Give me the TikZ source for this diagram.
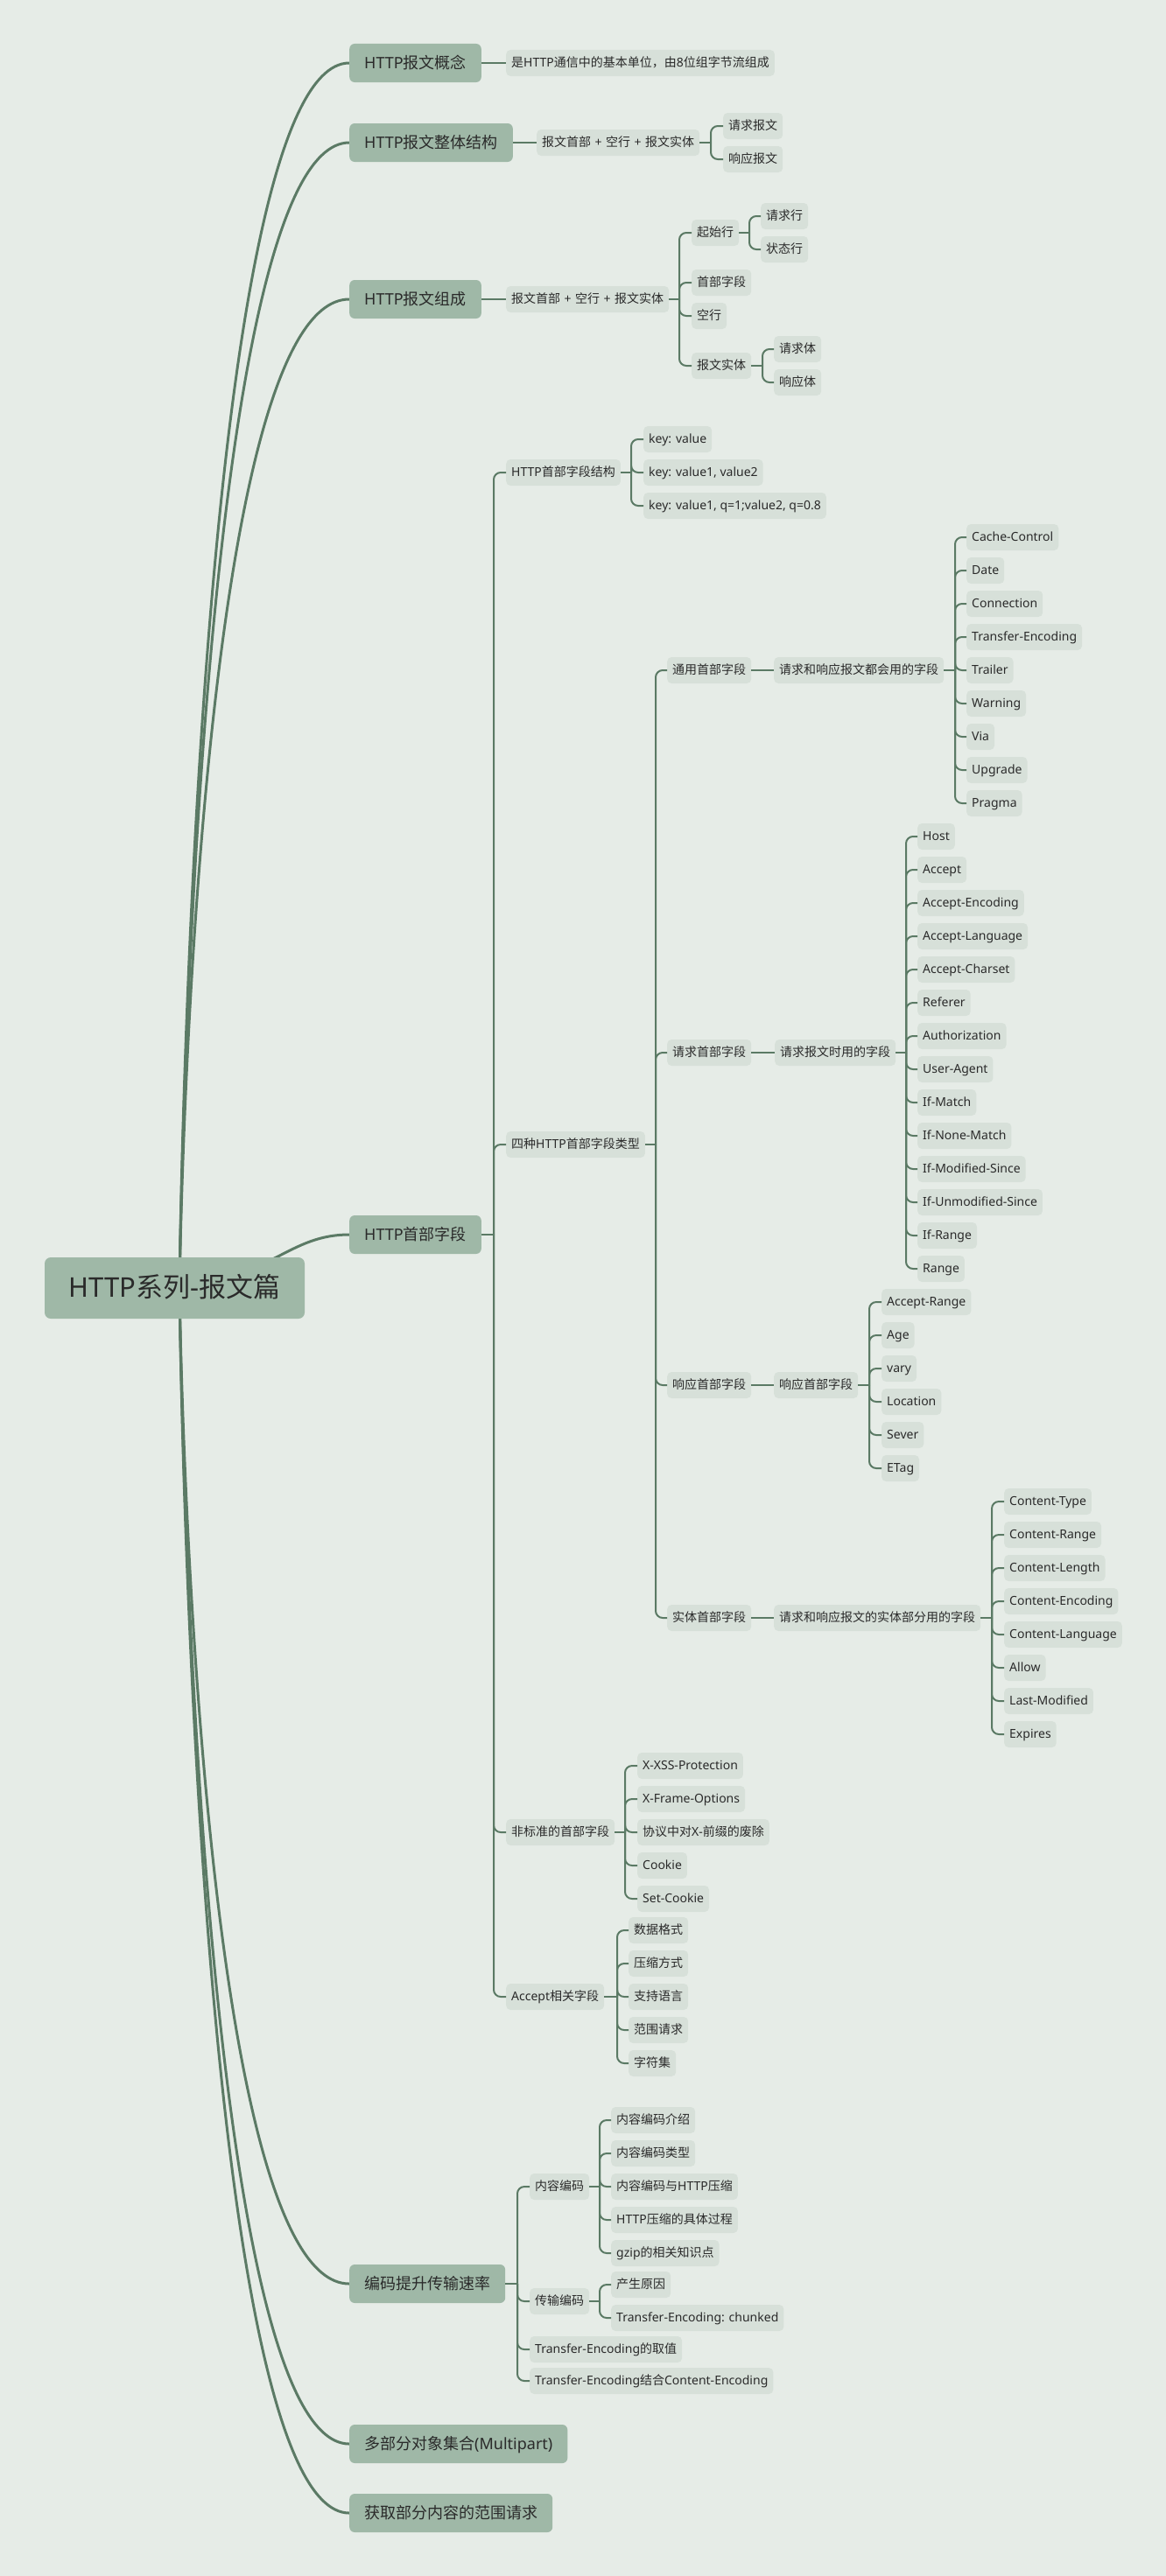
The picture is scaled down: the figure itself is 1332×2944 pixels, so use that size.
\documentclass[tikz,border=0pt]{standalone}
\usepackage{fontspec}
\setmainfont{Noto Sans}
\newfontfamily\cjkfont{Noto Sans CJK SC}
\usetikzlibrary{calc}
\XeTeXinterchartokenstate=1
\newXeTeXintercharclass\cjkclass
\newcount\cjkidx
\newcommand\setcjkrange[2]{%
  \cjkidx=#1\relax
  \loop
    \XeTeXcharclass\cjkidx=\cjkclass
    \ifnum\cjkidx<#2\relax \advance\cjkidx by 1
  \repeat}
\setcjkrange{"4E00}{"9FFF}
\setcjkrange{"3000}{"303F}
\setcjkrange{"FF00}{"FFEF}
\XeTeXinterchartoks 0 \cjkclass = {\cjkfont}
\XeTeXinterchartoks 4095 \cjkclass = {\cjkfont}
\XeTeXinterchartoks \cjkclass 0 = {\rmfamily}
\XeTeXinterchartoks \cjkclass 4095 = {\rmfamily}
\definecolor{bgc}{HTML}{E6ECE7}
\definecolor{mainc}{HTML}{9FB8A7}
\definecolor{subc}{HTML}{D7E0D9}
\definecolor{linec}{HTML}{5B7A65}
\definecolor{textc}{HTML}{2A2A2A}
\pgfdeclarelayer{bg}
\pgfsetlayers{bg,main}
\newcommand\hdrtext{\XeTeXinterchartokenstate=0
  \cjkfont 报文首部\rmfamily\kern4.5pt+\kern4.5pt\cjkfont 空行\rmfamily\kern4.5pt+\kern4.5pt\cjkfont 报文实体}
\newcommand\mysub[4]{\node[subbox] (#1) at (#2,#3) {#4};}
\newcommand\mymain[4]{\node[mainbox] (#1) at (#2,#3) {#4};}
\newcommand\fan[3]{%
  \coordinate (#1-sx) at (#2,0);
  \coordinate (#1-sp) at (#1.east -| #1-sx);
  \draw[conn] (#1.east) -- (#1-sp);
  \foreach \k in {#3} {\draw[conn, rounded corners=8pt] (#1-sp) |- (\k.west);}
}
\begin{document}
\begin{tikzpicture}[x=1pt,y=-1pt,
  conn/.style={draw=linec, line width=2pt},
  curve/.style={draw=linec, line width=3pt},
  rootbox/.style={fill=mainc, rounded corners=7pt, minimum width=297pt, minimum height=70pt,
     inner sep=0pt, text height=26pt, text depth=5pt, text=textc, font=\fontsize{31}{36}\selectfont},
  mainbox/.style={fill=mainc, rounded corners=6pt, anchor=west, minimum height=44pt,
     inner xsep=17pt, inner ysep=0pt, text height=15.2pt, text depth=2.8pt, text=textc,
     font=\fontsize{18}{22}\selectfont},
  subbox/.style={fill=subc, rounded corners=5pt, anchor=west, minimum height=30pt,
     inner xsep=6pt, inner ysep=0pt, text height=11.8pt, text depth=2.2pt, text=textc,
     font=\fontsize{14}{17}\selectfont}]
\begin{pgfonlayer}{bg}
\fill[bgc] (0,0) rectangle (1332,2944);
\end{pgfonlayer}
\useasboundingbox (0,0) rectangle (1332,2944);

% root and main topics
\node[rootbox] (root) at (199.5,1472) {HTTP系列-报文篇};
\coordinate (rc) at (205,1472);
\mymain{m1}{399}{72}{HTTP报文概念}
\mymain{m2}{399}{163}{HTTP报文整体结构}
\mymain{m3}{399}{342}{HTTP报文组成}
\mymain{m4}{399}{1411}{HTTP首部字段}
\mymain{m5}{399}{2610}{编码提升传输速率}
\mymain{m6}{399}{2793}{多部分对象集合(Multipart)}
\mymain{m7}{399}{2872}{获取部分内容的范围请求}

% 1
\mysub{a1}{578}{72}{是HTTP通信中的基本单位，由8位组字节流组成}
\draw[conn] (m1.east) -- (a1.west);

% 2
\mysub{b1}{613}{163}{\hdrtext}
\draw[conn] (m2.east) -- (b1.west);
\mysub{b11}{826}{144}{请求报文}
\mysub{b12}{826}{182}{响应报文}
\fan{b1}{812}{b11,b12}

% 3
\mysub{c1}{578}{342}{\hdrtext}
\draw[conn] (m3.east) -- (c1.west);
\mysub{c11}{790}{266}{起始行}
\mysub{c12}{790}{323}{首部字段}
\mysub{c13}{790}{361}{空行}
\mysub{c14}{790}{418}{报文实体}
\fan{c1}{776}{c11,c12,c13,c14}
\mysub{c111}{869}{247}{请求行}
\mysub{c112}{869}{285}{状态行}
\fan{c11}{856}{c111,c112}
\mysub{c141}{884}{399}{请求体}
\mysub{c142}{884}{437}{响应体}
\fan{c14}{871}{c141,c142}

% 4
\mysub{d1}{578}{540}{HTTP首部字段结构}
\mysub{d2}{578}{1308}{四种HTTP首部字段类型}
\mysub{d3}{578}{2094}{非标准的首部字段}
\mysub{d4}{578}{2282}{Accept相关字段}
\fan{m4}{564}{d1,d2,d3,d4}

\mysub{d11}{735}{502}{key: value}
\mysub{d12}{735}{540}{key: value1, value2}
\mysub{d13}{735}{578}{key: value1, q=1;value2, q=0.8}
\fan{d1}{721}{d11,d12,d13}

\mysub{e1}{762}{766}{通用首部字段}
\mysub{e2}{762}{1203}{请求首部字段}
\mysub{e3}{762}{1583}{响应首部字段}
\mysub{e4}{762}{1849}{实体首部字段}
\fan{d2}{749}{e1,e2,e3,e4}

\mysub{e1x}{884}{766}{请求和响应报文都会用的字段}
\draw[conn] (e1.east) -- (e1x.west);
\mysub{g1}{1104}{614}{Cache-Control}
\mysub{g2}{1104}{652}{Date}
\mysub{g3}{1104}{690}{Connection}
\mysub{g4}{1104}{728}{Transfer-Encoding}
\mysub{g5}{1104}{766}{Trailer}
\mysub{g6}{1104}{804}{Warning}
\mysub{g7}{1104}{842}{Via}
\mysub{g8}{1104}{880}{Upgrade}
\mysub{g9}{1104}{918}{Pragma}
\fan{e1x}{1091}{g1,g2,g3,g4,g5,g6,g7,g8,g9}

\mysub{e2x}{885}{1203}{请求报文时用的字段}
\draw[conn] (e2.east) -- (e2x.west);
\mysub{h1}{1048}{956}{Host}
\mysub{h2}{1048}{994}{Accept}
\mysub{h3}{1048}{1032}{Accept-Encoding}
\mysub{h4}{1048}{1070}{Accept-Language}
\mysub{h5}{1048}{1108}{Accept-Charset}
\mysub{h6}{1048}{1146}{Referer}
\mysub{h7}{1048}{1184}{Authorization}
\mysub{h8}{1048}{1222}{User-Agent}
\mysub{h9}{1048}{1260}{If-Match}
\mysub{h10}{1048}{1298}{If-None-Match}
\mysub{h11}{1048}{1336}{If-Modified-Since}
\mysub{h12}{1048}{1374}{If-Unmodified-Since}
\mysub{h13}{1048}{1412}{If-Range}
\mysub{h14}{1048}{1450}{Range}
\fan{e2x}{1035}{h1,h2,h3,h4,h5,h6,h7,h8,h9,h10,h11,h12,h13,h14}

\mysub{e3x}{884}{1583}{响应首部字段}
\draw[conn] (e3.east) -- (e3x.west);
\mysub{i1}{1007}{1488}{Accept-Range}
\mysub{i2}{1007}{1526}{Age}
\mysub{i3}{1007}{1564}{vary}
\mysub{i4}{1007}{1602}{Location}
\mysub{i5}{1007}{1640}{Sever}
\mysub{i6}{1007}{1678}{ETag}
\fan{e3x}{993}{i1,i2,i3,i4,i5,i6}

\mysub{e4x}{884}{1849}{请求和响应报文的实体部分用的字段}
\draw[conn] (e4.east) -- (e4x.west);
\mysub{j1}{1147}{1716}{Content-Type}
\mysub{j2}{1147}{1754}{Content-Range}
\mysub{j3}{1147}{1792}{Content-Length}
\mysub{j4}{1147}{1830}{Content-Encoding}
\mysub{j5}{1147}{1868}{Content-Language}
\mysub{j6}{1147}{1906}{Allow}
\mysub{j7}{1147}{1944}{Last-Modified}
\mysub{j8}{1147}{1982}{Expires}
\fan{e4x}{1133}{j1,j2,j3,j4,j5,j6,j7,j8}

\mysub{k1}{728}{2018}{X-XSS-Protection}
\mysub{k2}{728}{2056}{X-Frame-Options}
\mysub{k3}{728}{2094}{协议中对X-前缀的废除}
\mysub{k4}{728}{2132}{Cookie}
\mysub{k5}{728}{2170}{Set-Cookie}
\fan{d3}{714}{k1,k2,k3,k4,k5}

\mysub{l1}{718}{2206}{数据格式}
\mysub{l2}{718}{2244}{压缩方式}
\mysub{l3}{718}{2282}{支持语言}
\mysub{l4}{718}{2320}{范围请求}
\mysub{l5}{718}{2358}{字符集}
\fan{d4}{705}{l1,l2,l3,l4,l5}

% 5
\mysub{f1}{605}{2499}{内容编码}
\mysub{f2}{605}{2630}{传输编码}
\mysub{f3}{605}{2685}{Transfer-Encoding的取值}
\mysub{f4}{605}{2721}{Transfer-Encoding结合Content-Encoding}
\fan{m5}{591}{f1,f2,f3,f4}
\mysub{n1}{698}{2423}{内容编码介绍}
\mysub{n2}{698}{2461}{内容编码类型}
\mysub{n3}{698}{2499}{内容编码与HTTP压缩}
\mysub{n4}{698}{2537}{HTTP压缩的具体过程}
\mysub{n5}{698}{2575}{gzip的相关知识点}
\fan{f1}{685}{n1,n2,n3,n4,n5}
\mysub{o1}{698}{2611}{产生原因}
\mysub{o2}{698}{2649}{Transfer-Encoding: chunked}
\fan{f2}{685}{o1,o2}

% curves from root
\begin{pgfonlayer}{bg}
\draw[curve] (rc) .. controls (rc) and (220,72) .. (m1.west);
\draw[curve] (rc) .. controls (rc) and (220,163) .. (m2.west);
\draw[curve] (rc) .. controls (rc) and (220,342) .. (m3.west);
\draw[curve] (rc) .. controls (310,1460) and (330,1411) .. (m4.west);
\draw[curve] (rc) .. controls (rc) and (220,2610) .. (m5.west);
\draw[curve] (rc) .. controls (rc) and (220,2793) .. (m6.west);
\draw[curve] (rc) .. controls (rc) and (220,2872) .. (m7.west);
\end{pgfonlayer}
\end{tikzpicture}
\end{document}
